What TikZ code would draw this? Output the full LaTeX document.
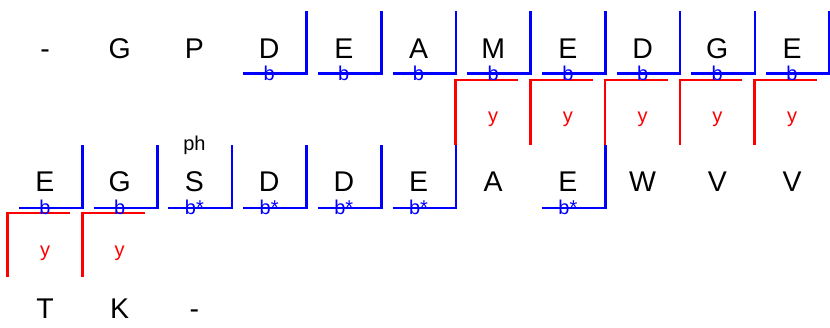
\documentclass[tikz,border=0pt]{standalone}
\usepackage{fontspec}
\setmainfont{Liberation Sans}
\begin{document}
\begin{tikzpicture}[x=1pt,y=-1pt,
  big/.style={font=\fontsize{28.5}{34}\selectfont, anchor=base, inner sep=0pt},
  small/.style={font=\fontsize{20}{24}\selectfont, anchor=base, inner sep=0pt},
  bl/.style={blue, line width=2.6pt, line join=miter},
  rd/.style={red, line width=2.6pt, line join=miter}]
\useasboundingbox (0,0) rectangle (830,328);
% row 1 letters
\foreach \t [count=\i from 0] in {-,G,P,D,E,A,M,E,D,G,E}
  \node[big] (ra\i) at ({45+74.7*\i},59) {\t};
% row 2 letters
\foreach \t [count=\i from 0] in {E,G,S,D,D,E,A,E,W,V,V}
  \node[big] (rb\i) at ({45+74.7*\i},191.5) {\t};
% row 3 letters
\foreach \t [count=\i from 0] in {T,K,-}
  \node[big] (rc\i) at ({45+74.7*\i},319) {\t};
% ph above S
\node[small, text=black] (ph) at ({45+74.7*2},151) {ph};
% row 1 red brackets
\foreach \i in {6,...,10} {
  \draw[rd] ({45+74.7*\i+25},80) -- ({45+74.7*\i-37.5},80) -- ({45+74.7*\i-37.5},145);
  \node[small, text=red] (ya\i) at ({45+74.7*\i},123) {y};
}
% row 1 blue brackets
\foreach \i in {3,...,10} {
  \draw[bl] ({45+74.7*\i-26},73.5) -- ({45+74.7*\i+37.5},73.5) -- ({45+74.7*\i+37.5},11);
  \node[small, text=blue] (ba\i) at ({45+74.7*\i},80.5) {b};
}
% row 2 red brackets
\foreach \i in {0,1} {
  \draw[rd] ({45+74.7*\i+25},213) -- ({45+74.7*\i-37.5},213) -- ({45+74.7*\i-37.5},277);
  \node[small, text=red] (yb\i) at ({45+74.7*\i},257) {y};
}
% row 2 blue brackets
\foreach \i/\l in {0/b,1/b,2/b*,3/b*,4/b*,5/b*,7/b*} {
  \draw[bl] ({45+74.7*\i-26},208) -- ({45+74.7*\i+37.5},208) -- ({45+74.7*\i+37.5},145);
  \node[small, text=blue] (bb\i) at ({45+74.7*\i},215) {\l};
}
\end{tikzpicture}
\end{document}
